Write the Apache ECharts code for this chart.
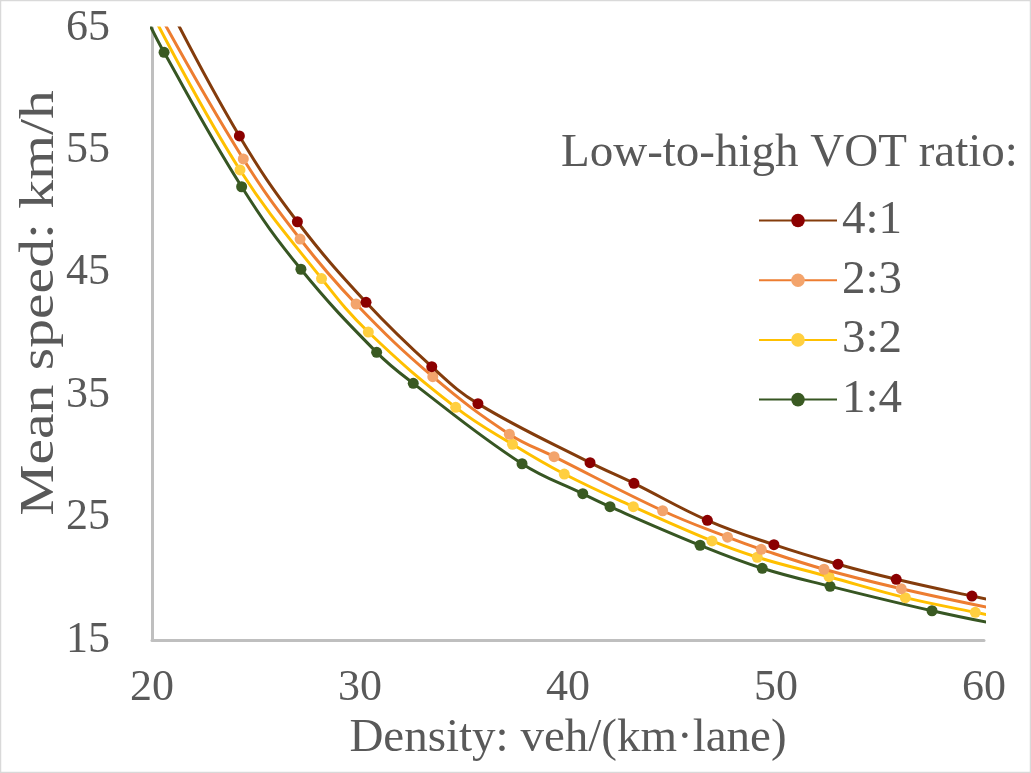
<!DOCTYPE html>
<html>
<head>
	<meta charset="utf-8">
	<title>Mean speed vs density</title>
	<script src="https://cdn.jsdelivr.net/npm/echarts@6/dist/echarts.min.js"></script>
	<style>
		html, body { margin: 0; padding: 0; background: #fff; }
		#main { width: 1031px; height: 773px; }
	</style>
</head>
<body>
<div id="main"></div>
<script>
	// series names (legend order)
	var names = ['4:1', '2:3', '3:2', '1:4'];

	// density (veh/(km·lane)) and mean speed (km/h)
	// first and last points of each list sit outside the axis range, only the line shows there
	var density41 = [20.8, 24.20, 26.99, 30.29, 33.45, 35.67, 41.06, 43.17, 46.70, 49.90, 52.98, 55.78, 59.42, 62.8];
	var speed41   = [66.8, 56.18, 49.17, 42.59, 37.33, 34.31, 29.49, 27.80, 24.78, 22.79, 21.19, 19.96, 18.59, 17.4];

	var density23 = [20.3, 24.39, 27.12, 29.81, 33.50, 37.18, 39.33, 44.55, 47.67, 49.29, 52.31, 56.02, 60.8];
	var speed23   = [66.3, 54.30, 47.76, 42.45, 36.51, 31.81, 29.98, 25.56, 23.40, 22.41, 20.78, 19.19, 17.45];

	var density32 = [20.0, 24.23, 28.15, 30.40, 34.60, 37.33, 39.82, 43.14, 46.92, 49.10, 52.55, 56.22, 59.58, 62.6];
	var speed32   = [66.2, 53.40, 44.53, 40.16, 34.01, 30.99, 28.56, 25.89, 23.09, 21.76, 20.17, 18.46, 17.26, 16.2];

	var density14 = [19.6, 20.58, 24.31, 27.16, 30.80, 32.56, 37.79, 40.71, 42.02, 46.35, 49.34, 52.60, 57.50, 61.2];
	var speed14   = [66.3, 63.01, 52.03, 45.29, 38.50, 35.97, 29.40, 26.95, 25.89, 22.74, 20.86, 19.39, 17.39, 16.1];

	var lineColors   = ['#843C0C', '#ED7D31', '#FFC000', '#375623'];
	var markerColors = ['#8B0000', '#F3A46C', '#FFCF40', '#3A5A22'];

	var font = 'Liberation Serif';
	var textColor = '#595959';

	function pairs(xs, ys) {
		var out = [];
		for (var i = 0; i < xs.length; i++) {
			out.push([xs[i], ys[i]]);
		}
		return out;
	}

	var allData = [
		pairs(density41, speed41),
		pairs(density23, speed23),
		pairs(density32, speed32),
		pairs(density14, speed14)
	];

	var series = names.map(function(name, i) {
		return {
			name: name,
			type: 'line',
			data: allData[i],
			smooth: 0.4,
			clip: true,
			symbol: 'circle',
			symbolSize: 11,
			showAllSymbol: true,
			lineStyle: { color: lineColors[i], width: 3 },
			itemStyle: { color: markerColors[i], borderWidth: 0 },
			emphasis: { disabled: true },
			z: 10 - i
		};
	});

	var myChart = echarts.init(document.getElementById('main'));

	var option = {
		backgroundColor: '#ffffff',
		animation: false,
		grid: { left: 152, right: 47, top: 28, bottom: 133 },
		title: {
			text: 'Low-to-high VOT ratio:',
			left: 561,
			top: 130,
			padding: 0,
			textStyle: { fontFamily: font, fontSize: 47, fontWeight: 'normal', color: textColor, lineHeight: 47 }
		},
		legend: {
			data: names,
			orient: 'vertical',
			left: 758,
			top: 197,
			padding: 0,
			itemWidth: 78,
			itemHeight: 17,
			itemGap: 12.7,
			lineStyle: { width: 2 },
			textStyle: { fontFamily: font, fontSize: 47, color: textColor, lineHeight: 46 }
		},
		xAxis: {
			type: 'value',
			min: 20,
			max: 60,
			interval: 10,
			name: 'Density: veh/(km·lane)',
			nameLocation: 'middle',
			nameGap: 74,
			nameTextStyle: { fontFamily: font, fontSize: 47, color: textColor, lineHeight: 47 },
			axisLine: { show: true, lineStyle: { color: '#BFBFBF', width: 3 } },
			axisTick: { show: false },
			splitLine: { show: false },
			axisLabel: { fontFamily: font, fontSize: 44, color: textColor, margin: 26, lineHeight: 44 }
		},
		yAxis: {
			type: 'value',
			min: 15,
			max: 65,
			interval: 5,
			axisLine: { show: true, lineStyle: { color: '#BFBFBF', width: 3 } },
			axisTick: { show: false },
			splitLine: { show: false },
			axisLabel: {
				fontFamily: font, fontSize: 44, color: textColor, margin: 42,
				formatter: function(v) { return (v - 15) % 10 === 0 ? String(v) : ''; }
			}
		},
		graphic: [
			{
				type: 'text',
				x: 40,
				y: 303,
				rotation: Math.PI / 2,
				scaleX: 1.2,
				style: {
					text: 'Mean speed: km/h',
					fontFamily: font,
					fontSize: 48,
					fill: textColor,
					align: 'center',
					verticalAlign: 'middle'
				}
			},
			{
				type: 'rect',
				shape: { x: 0.5, y: 0.5, width: 1030, height: 772 },
				style: { fill: null, stroke: '#D9D9D9', lineWidth: 1.5 }
			}
		],
		series: series
	};

	myChart.setOption(option);
</script>
</body>
</html>
